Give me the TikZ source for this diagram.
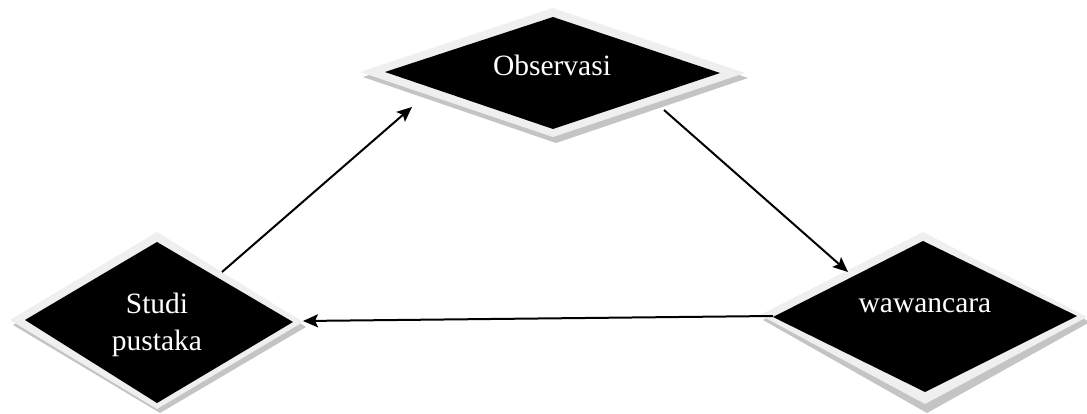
\documentclass[tikz,border=0pt]{standalone}
\usepackage{fontspec}
\setmainfont{Liberation Serif}
\usetikzlibrary{arrows.meta}
\definecolor{bevel}{HTML}{EFEFEF}
\definecolor{shade}{HTML}{C4C4C4}
\tikzset{
  shadowpoly/.style={fill=shade},
  bevelpoly/.style={fill=bevel},
  corepoly/.style={fill=black},
  lbl/.style={text=white, font=\fontsize{29.5}{38}\selectfont, align=center, anchor=base, inner sep=0pt},
  link/.style={line width=2pt, -{Stealth[length=15pt,width=13pt,inset=3pt]}}
}
\begin{document}
\begin{tikzpicture}[x=1pt,y=-1pt]
\useasboundingbox (0,0) rectangle (1087,414);
% Observasi
\fill[shadowpoly] (363,77) -- (556,13) -- (748,78) -- (556,143) -- cycle;
\fill[bevelpoly] (360,72) -- (553,8) -- (745,73) -- (553,137) -- cycle;
\fill[corepoly] (385,72) -- (553,17) -- (720,73) -- (553,129) -- cycle;
\node[lbl] (obs) at (552,76) {Observasi};
% Studi pustaka
\fill[shadowpoly] (13,325) -- (160,237) -- (306,327) -- (160,413) -- cycle;
\fill[bevelpoly] (10,320) -- (157,232) -- (303,322) -- (157,409) -- cycle;
\fill[corepoly] (25,320) -- (157,242) -- (293,322) -- (157,403) -- cycle;
\node[lbl] (stu) at (157,313) {Studi};
\node[lbl] (pus) at (157,350) {pustaka};
% wawancara
\fill[shadowpoly] (763,320) -- (926,237) -- (1090,322) -- (927,413) -- cycle;
\fill[bevelpoly] (760,315) -- (923,232) -- (1087,317) -- (925,404) -- cycle;
\fill[corepoly] (773,317) -- (923,241) -- (1077,316) -- (925,392) -- cycle;
\node[lbl] (waw) at (925,312) {wawancara};
% connector ends
\coordinate (s1) at (222,272);
\coordinate (o1) at (412,107);
\coordinate (o2) at (664,110);
\coordinate (w1) at (848,272);
\coordinate (w2) at (773,316);
\coordinate (s2) at (303,321);
\draw[link] (s1) -- (o1);
\draw[link] (o2) -- (w1);
\draw[link] (w2) -- (s2);
\end{tikzpicture}
\end{document}
